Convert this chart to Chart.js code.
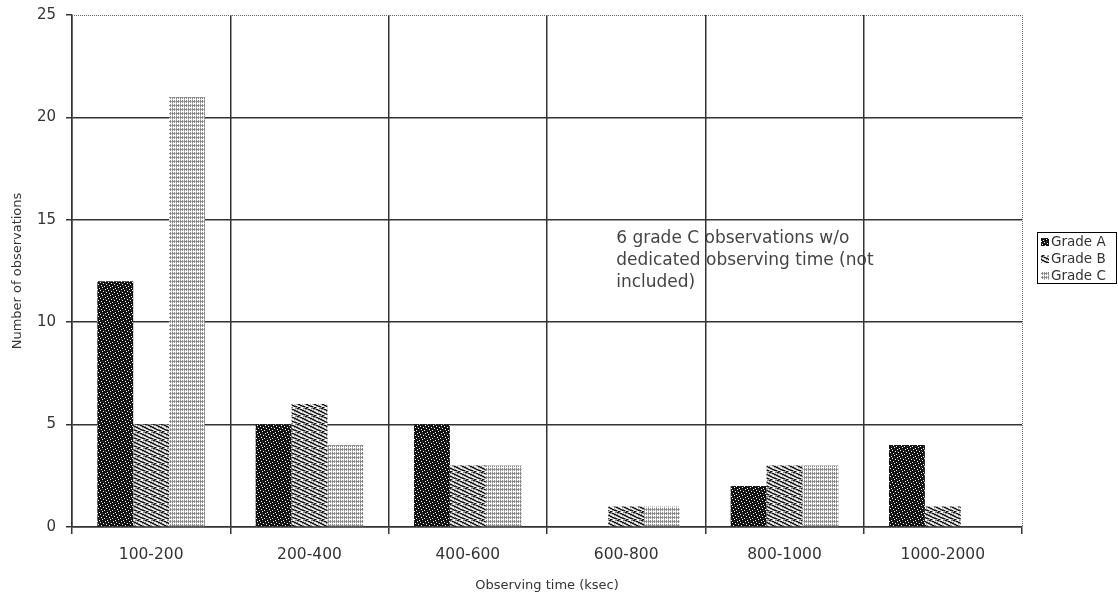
<!DOCTYPE html>
<html>
<head>
<meta charset="utf-8">
<script src="https://cdn.jsdelivr.net/npm/chart.js@4/dist/chart.umd.min.js"></script>
<style>
  html, body { margin: 0; padding: 0; background: #fff; }
  #wrap { width: 1118px; height: 600px; }
</style>
</head>
<body>
<div id="wrap"><canvas id="c" width="1118" height="600"></canvas></div>
<script>
// Observation counts per observing-time bin
const categories = ['100-200', '200-400', '400-600', '600-800', '800-1000', '1000-2000'];
const gradeA = [12, 5, 5, 0, 2, 4];
const gradeB = [5, 6, 3, 1, 3, 1];
const gradeC = [21, 4, 3, 1, 3, 0];
const seriesNames = ['Grade A', 'Grade B', 'Grade C'];
const yTicks = [0, 5, 10, 15, 20, 25];
const noteLines = ['6 grade C observations w/o', 'dedicated observing time (not', 'included)'];

// Small pixel tiles used as fill textures
const palette = { k: '#111111', d: '#444444', g: '#888888', l: '#bbbbbb', w: '#ffffff' };
function makePattern(rows) {
  const t = document.createElement('canvas');
  t.width = rows[0].length; t.height = rows.length;
  const tc = t.getContext('2d');
  rows.forEach((r, y) => {
    for (let x = 0; x < r.length; x++) {
      tc.fillStyle = palette[r[x]];
      tc.fillRect(x, y, 1, 1);
    }
  });
  return document.createElement('canvas').getContext('2d').createPattern(t, 'repeat');
}
const fillA = makePattern([
  'kkkwkkkk',
  'kwkkkkdk',
  'kkkkwkkk',
  'kdkkkkkw',
  'kkwkkkkk',
  'kkkkkwkk',
  'wkkdkkkk',
  'kkkkkkwk'
]);
const fillB = makePattern([
  'gkkglwwg',
  'wlggkkgl',
  'ggwwlgkk',
  'kkglwwgg',
  'lgkkgwlw',
  'wwlgkkgg',
  'kgwwlgkk',
  'glkkgwwl'
]);
const fillC = makePattern([
  'gwgw',
  'gggl',
  'gwgw',
  'lwww'
]);
const fills = [fillA, fillB, fillC];

const frameColor = '#333333';
const textColor = '#333333';
const fontFamily = '"DejaVu Sans", "Liberation Sans", sans-serif';

const decorations = {
  id: 'decorations',
  beforeDraw(chart) {
    const ctx = chart.ctx;
    ctx.save();
    ctx.fillStyle = '#ffffff';
    ctx.fillRect(0, 0, chart.width, chart.height);
    // Note about excluded observations, anchored at a data position
    const xs = chart.scales.x, ys = chart.scales.y;
    const nx = xs.getPixelForValue(3) - 10;
    const ny = ys.getPixelForValue(14.1);
    ctx.fillStyle = '#444444';
    ctx.font = '17px ' + fontFamily;
    ctx.textBaseline = 'middle';
    ctx.textAlign = 'left';
    noteLines.forEach((s, i) => ctx.fillText(s, nx, ny + i * 22));
    ctx.restore();
  },
  afterDraw(chart) {
    const ctx = chart.ctx;
    const a = chart.chartArea;
    ctx.save();
    // dotted top and right frame
    ctx.strokeStyle = '#666666';
    ctx.lineWidth = 1;
    ctx.setLineDash([1, 1]);
    ctx.beginPath();
    ctx.moveTo(a.left, a.top + 0.5);
    ctx.lineTo(a.right + 0.5, a.top + 0.5);
    ctx.lineTo(a.right + 0.5, a.bottom);
    ctx.stroke();
    ctx.setLineDash([]);

    // legend box
    const bx = a.right + 15, by = 232, bw = 79, bh = 51;
    ctx.strokeStyle = '#000000';
    ctx.strokeRect(bx + 0.5, by + 0.5, bw, bh);
    ctx.font = '13.5px ' + fontFamily;
    ctx.textBaseline = 'middle';
    ctx.textAlign = 'left';
    chart.data.datasets.forEach((ds, i) => {
      const cy = by + 10 + i * 17;
      ctx.fillStyle = ds.backgroundColor;
      ctx.fillRect(bx + 4, cy - 4, 8, 8);
      ctx.fillStyle = textColor;
      ctx.fillText(ds.label, bx + 14, cy);
    });
    ctx.restore();
  }
};

new Chart(document.getElementById('c'), {
  type: 'bar',
  data: {
    labels: categories,
    datasets: [
      { label: seriesNames[0], data: gradeA, backgroundColor: fills[0] },
      { label: seriesNames[1], data: gradeB, backgroundColor: fills[1] },
      { label: seriesNames[2], data: gradeC, backgroundColor: fills[2] }
    ]
  },
  options: {
    responsive: false,
    devicePixelRatio: 1,
    animation: false,
    events: [],
    categoryPercentage: 0.68,
    barPercentage: 1.0,
    layout: { padding: { top: 15, right: 96, left: 0, bottom: 0 } },
    plugins: {
      legend: { display: false },
      tooltip: { enabled: false },
      title: { display: false }
    },
    scales: {
      x: {
        grid: {
          offset: true,
          color: (c) => (c.type === 'tick' ? frameColor : 'rgba(0,0,0,0)'),
          tickColor: frameColor,
          tickLength: 7,
          lineWidth: 1.5
        },
        border: { display: true, color: frameColor, width: 1.5 },
        ticks: {
          color: textColor,
          font: { family: fontFamily, size: 15.5 },
          padding: 12,
          maxRotation: 0,
          autoSkip: false
        },
        title: {
          display: true,
          text: 'Observing time (ksec)',
          color: textColor,
          font: { family: fontFamily, size: 13 },
          padding: { top: 0, bottom: 7 }
        },
        afterFit(scale) {
          scale.height = 73;
          scale.paddingLeft = 0;
          scale.paddingRight = 0;
        }
      },
      y: {
        min: 0,
        max: 25,
        afterBuildTicks(scale) { scale.ticks = yTicks.map(v => ({ value: v })); },
        grid: {
          color: (c) => (c.tick && c.tick.value === 25 ? 'rgba(0,0,0,0)' : frameColor),
          tickColor: frameColor,
          tickLength: 6,
          lineWidth: 1.5
        },
        border: { display: true, color: frameColor, width: 1.5 },
        ticks: {
          color: textColor,
          font: { family: fontFamily, size: 15 },
          padding: 10
        },
        title: {
          display: true,
          text: 'Number of observations',
          color: textColor,
          font: { family: fontFamily, size: 13 },
          padding: { top: 10, bottom: 0 }
        },
        afterFit(scale) {
          scale.width = 72;
          scale.paddingTop = 0;
          scale.paddingBottom = 0;
        }
      }
    }
  },
  plugins: [decorations]
});
</script>
</body>
</html>
